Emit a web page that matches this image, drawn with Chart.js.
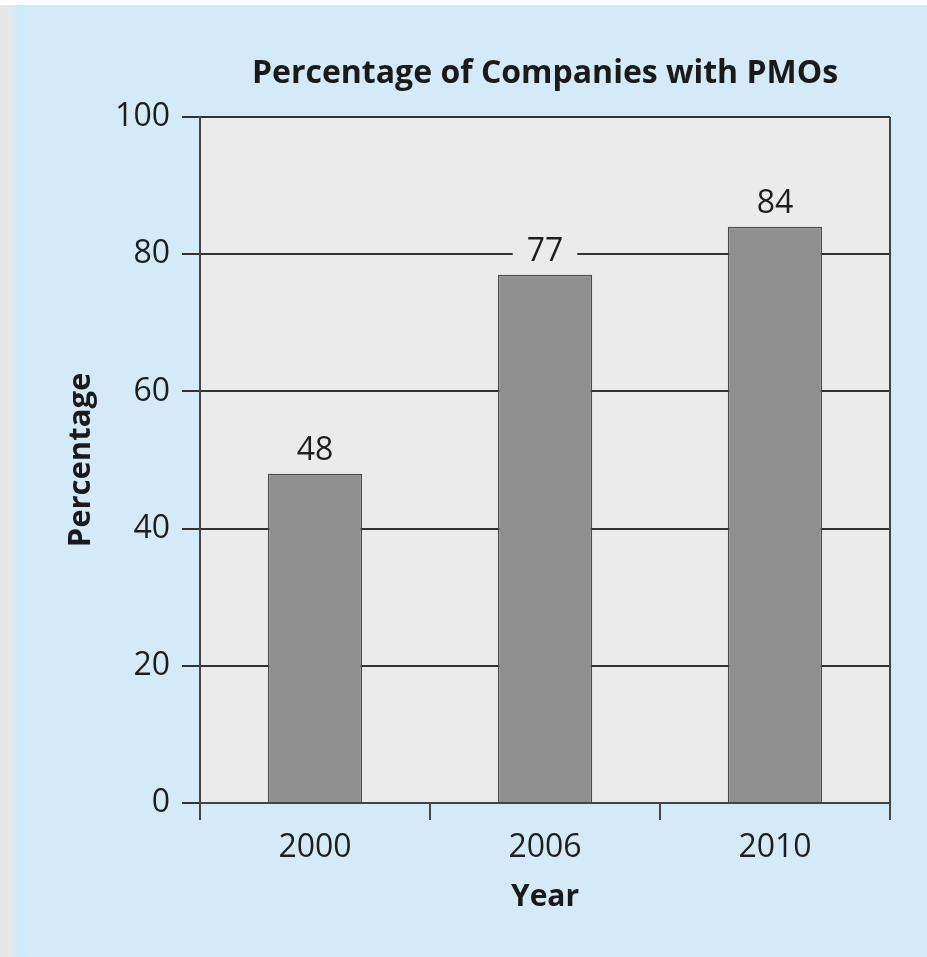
<!DOCTYPE html>
<html>
<head>
<meta charset="utf-8">
<title>Percentage of Companies with PMOs</title>
<script src="https://cdn.jsdelivr.net/npm/chart.js@4.4.0/dist/chart.umd.min.js"></script>
<style>
  html, body { margin: 0; padding: 0; background: #d5eaf7; }
  canvas { display: block; }
</style>
</head>
<body>
<canvas id="pmoChart" width="927" height="957"></canvas>
<script>
// values
const years = ["2000", "2006", "2010"];
const percentages = [48, 77, 84];
const yTicks = [0, 20, 40, 60, 80, 100];

const chartTitle = "Percentage of Companies with PMOs";
const font = "'Open Sans', 'Noto Sans', sans-serif";

// light blue panel with the grey shadow at the left edge, grey plot area
const panelBackground = {
  id: "panelBackground",
  beforeDraw(chart) {
    const { ctx, width, height, chartArea } = chart;
    ctx.save();
    ctx.fillStyle = "#ffffff";
    ctx.fillRect(0, 0, width, height);
    const grad = ctx.createLinearGradient(0, 0, 34, 0);
    grad.addColorStop(0, "#e7e7e7");
    grad.addColorStop(0.3, "#e4e7e8");
    grad.addColorStop(0.6, "#cdeaf9");
    grad.addColorStop(1, "#d5eaf7");
    ctx.fillStyle = grad;
    ctx.fillRect(0, 5, 34, height - 5);
    ctx.fillStyle = "#d5eaf7";
    ctx.fillRect(34, 5, width - 34, height - 5);
    ctx.fillStyle = "#ebebeb";
    ctx.fillRect(chartArea.left, chartArea.top,
      chartArea.right - chartArea.left, chartArea.bottom - chartArea.top);
    ctx.restore();
  }
};

// title centred over the plot area, frame and value labels on top of the bars
const labelsAndFrame = {
  id: "labelsAndFrame",
  afterDatasetsDraw(chart) {
    const { ctx, chartArea } = chart;
    ctx.save();

    ctx.strokeStyle = "#444444";
    ctx.lineWidth = 2;
    ctx.beginPath();
    ctx.moveTo(chartArea.right, chartArea.top);
    ctx.lineTo(chartArea.right, chartArea.bottom);
    ctx.stroke();

    ctx.font = "bold 32px " + font;
    ctx.fillStyle = "#1a1a1a";
    ctx.textAlign = "center";
    ctx.textBaseline = "middle";
    ctx.fillText(chartTitle, (chartArea.left + chartArea.right) / 2, 74);

    ctx.font = "32px " + font;
    const meta = chart.getDatasetMeta(0);
    meta.data.forEach((bar, i) => {
      const text = String(percentages[i]);
      const w = ctx.measureText(text).width + 28;
      const cy = bar.y - 23;
      ctx.fillStyle = "#ebebeb";
      ctx.fillRect(bar.x - w / 2, cy - 17, w, 34);
      ctx.fillStyle = "#1e1e1e";
      ctx.fillText(text, bar.x, cy);
    });
    ctx.restore();
  }
};

new Chart(document.getElementById("pmoChart"), {
  type: "bar",
  data: {
    labels: years,
    datasets: [
      {
        label: "Percentage",
        data: percentages,
        backgroundColor: "#8f8f8f",
        borderColor: "#4d4d4d",
        borderWidth: 1.5,
        categoryPercentage: 1,
        barPercentage: 0.41,
      },
    ],
  },
  options: {
    responsive: false,
    animation: false,
    layout: { padding: { top: 117, right: 37, left: 0, bottom: 0 } },
    plugins: {
      legend: { display: false },
      tooltip: { enabled: false },
      title: { display: false },
    },
    scales: {
      x: {
        grid: {
          offset: true,
          drawOnChartArea: false,
          drawTicks: true,
          tickLength: 17,
          color: "#444444",
          lineWidth: 2,
        },
        border: { color: "#444444", width: 2 },
        ticks: {
          padding: 9,
          color: "#1e1e1e",
          font: { family: font, size: 32 },
        },
        title: {
          display: true,
          text: "Year",
          color: "#1a1a1a",
          font: { family: font, size: 30, weight: "bold" },
          padding: { top: 0, bottom: 42 },
        },
        afterFit(scale) { scale.height = 154; },
      },
      y: {
        min: yTicks[0],
        max: yTicks[yTicks.length - 1],
        afterBuildTicks(scale) { scale.ticks = yTicks.map((v) => ({ value: v })); },
        grid: {
          color: "#333333",
          lineWidth: 2,
          tickLength: 18,
        },
        border: { color: "#444444", width: 2 },
        ticks: {
          padding: 12,
          color: "#1e1e1e",
          font: { family: font, size: 32 },
        },
        title: {
          display: true,
          text: "Percentage",
          color: "#1a1a1a",
          font: { family: font, size: 31, weight: "bold" },
          padding: { top: 63, bottom: 0 },
        },
        afterFit(scale) { scale.width = 200; },
      },
    },
  },
  plugins: [panelBackground, labelsAndFrame],
});
</script>
</body>
</html>
